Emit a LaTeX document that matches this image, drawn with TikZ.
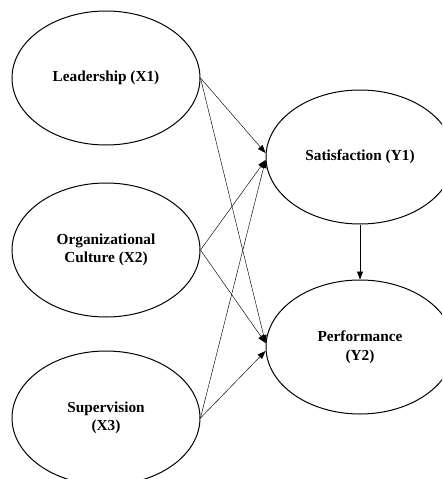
\documentclass[tikz,border=0pt]{standalone}
\usepackage{fontspec}
\setmainfont{Liberation Serif}
\usetikzlibrary{shapes.geometric,arrows.meta}
\begin{document}
\begin{tikzpicture}[x=1pt,y=-1pt,
  construct/.style={ellipse,draw,line width=1pt,minimum width=188pt,minimum height=134pt,
    inner sep=0pt,align=center,font=\fontsize{15.3}{18.5}\selectfont\bfseries},
  path/.style={line width=0.45pt,-{Triangle[length=8pt,width=6pt]}}]
\useasboundingbox (0,0) rectangle (442,479);
\clip (0,0) rectangle (442,479);
\node[construct] (X1) at (106,78) {Leadership (X1)};
\node[construct] (X2) at (106,250) {Organizational\\Culture (X2)};
\node[construct] (X3) at (106,418) {Supervision\\(X3)};
\node[construct] (Y1) at (360,157) {Satisfaction (Y1)};
\node[construct] (Y2) at (360,347) {Performance\\(Y2)};
\coordinate (Y1a) at ([yshift=4pt]Y1.west);
\coordinate (Y1b) at ([yshift=-3pt]Y1.west);
\coordinate (Y2a) at ([yshift=4pt]Y2.west);
\coordinate (Y2b) at ([yshift=-4pt]Y2.west);
\draw[path] (X1.east) -- (Y1a);
\draw[path] (X1.east) -- (Y2a);
\draw[path] (X2.east) -- (Y1b);
\draw[path] (X2.east) -- (Y2a);
\draw[path] (X3.east) -- (Y1b);
\draw[path] (X3.east) -- (Y2b);
\draw[path,line width=0.6pt] (Y1.south) -- (Y2.north);
\end{tikzpicture}
\end{document}
